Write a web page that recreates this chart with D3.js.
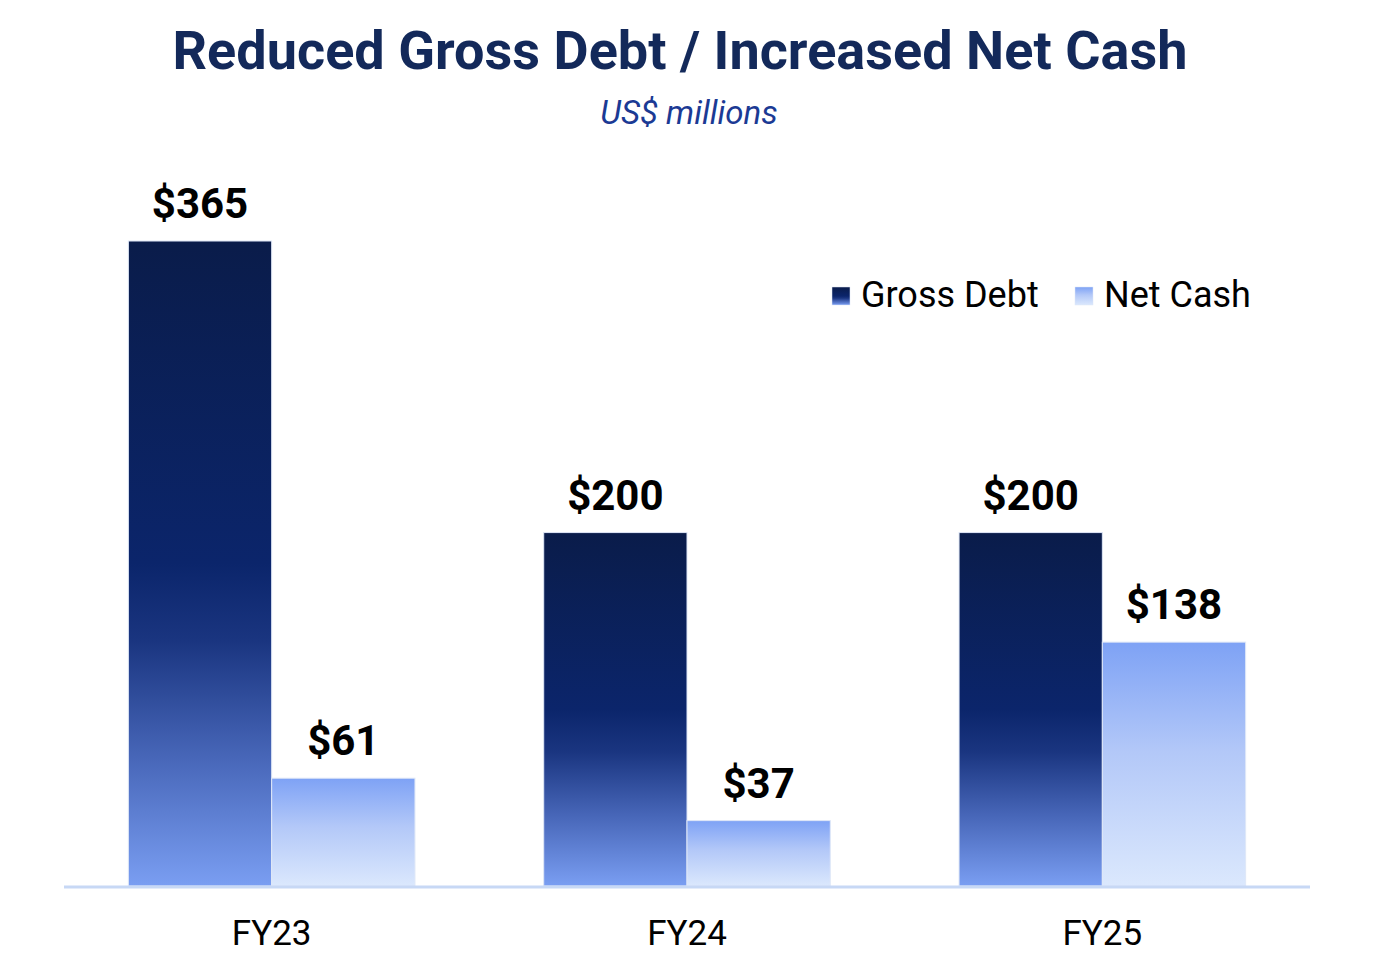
<!DOCTYPE html>
<html><head><meta charset="utf-8">
<script src="https://cdn.jsdelivr.net/npm/d3@7"></script>
<style>body{margin:0;background:#fff}svg{display:block;font-family:Roboto,sans-serif}</style>
</head><body>
<svg id="chart" width="1378" height="966"></svg>
<script>
const categories = ["FY23", "FY24", "FY25"];
const seriesNames = ["Gross Debt", "Net Cash"];
const grossDebt = [365, 200, 200];
const netCash = [61, 37, 138];
const title = "Reduced Gross Debt / Increased Net Cash";
const subtitle = "US$ millions";

const svg = d3.select("#chart");
const baseY = 886;

const defs = svg.append("defs");
const g1 = defs.append("linearGradient").attr("id","gGross").attr("x1",0).attr("y1",0).attr("x2",0).attr("y2",1);
[[0,"#0a1c4a"],[0.5,"#0b256b"],[0.62,"#1a3580"],[0.8,"#4766b8"],[1,"#7a9ef2"]].forEach(s=>g1.append("stop").attr("offset",s[0]).attr("stop-color",s[1]));
const g2 = defs.append("linearGradient").attr("id","gNet").attr("x1",0).attr("y1",0).attr("x2",0).attr("y2",1);
[[0,"#7ea2f5"],[0.45,"#b3c8f8"],[1,"#dbe8fd"]].forEach(s=>g2.append("stop").attr("offset",s[0]).attr("stop-color",s[1]));

const x0 = d3.scaleBand().domain(categories).range([64, 1310]).paddingInner(0.31).paddingOuter(0.155);
const x1 = d3.scaleBand().domain(seriesNames).range([0, x0.bandwidth()]);
const y = d3.scaleLinear().domain([0, 365]).range([baseY, 241]);

const data = categories.map((c,i)=>({cat:c, vals:[{k:"Gross Debt",v:grossDebt[i]},{k:"Net Cash",v:netCash[i]}]}));
const fills = {"Gross Debt":"url(#gGross)","Net Cash":"url(#gNet)"};

const groups = svg.append("g").selectAll("g").data(data).join("g")
  .attr("transform", d=>`translate(${x0(d.cat)},0)`);
groups.selectAll("rect").data(d=>d.vals).join("rect")
  .attr("x", d=>x1(d.k)).attr("width", x1.bandwidth())
  .attr("y", d=>y(d.v)).attr("height", d=>baseY - y(d.v))
  .attr("fill", d=>fills[d.k]).attr("stroke","#dfe7f7").attr("stroke-width",1);
groups.selectAll("text.val").data(d=>d.vals).join("text").attr("class","val")
  .attr("x", d=>x1(d.k)+x1.bandwidth()/2).attr("y", d=>y(d.v)-23)
  .attr("text-anchor","middle").attr("font-size",42).attr("font-weight",700).attr("fill","#000")
  .text(d=>"$"+d.v);

// axis
const xAxis = svg.append("g").attr("transform",`translate(0,${baseY})`)
  .call(d3.axisBottom(x0).tickSize(0).tickPadding(0));
xAxis.select(".domain").attr("stroke","#c7d8f5").attr("stroke-width",3).attr("d","M64,1H1310");
xAxis.selectAll("text").attr("font-size",35).attr("fill","#000").attr("font-family","Roboto, sans-serif")
  .attr("dy",0).attr("y",59);

// title
const t = svg.append("text").attr("x",680).attr("y",69).attr("text-anchor","middle")
  .attr("font-size",54).attr("font-weight",700).attr("fill","#13295a").text(title);
const tl = t.node().getComputedTextLength();
const target = 1015;
t.attr("letter-spacing", ((target - tl)/(title.length)).toFixed(2)+"px");

svg.append("text").attr("x",689).attr("y",124).attr("text-anchor","middle")
  .attr("font-size",33).attr("font-style","italic").attr("fill","#1b3a94").text(subtitle);

// legend
const leg = [{k:"Gross Debt",x:832},{k:"Net Cash",x:1075}];
const lg = svg.append("g").selectAll("g").data(leg).join("g");
lg.append("rect").attr("x",d=>d.x).attr("y",287).attr("width",18).attr("height",18)
  .attr("fill",d=>fills[d.k]).attr("stroke","#dfe7f7").attr("stroke-width",0.5);
lg.append("text").attr("x",d=>d.x+29).attr("y",307).attr("font-size",36).attr("fill","#000").text(d=>d.k);
</script>
</body></html>
